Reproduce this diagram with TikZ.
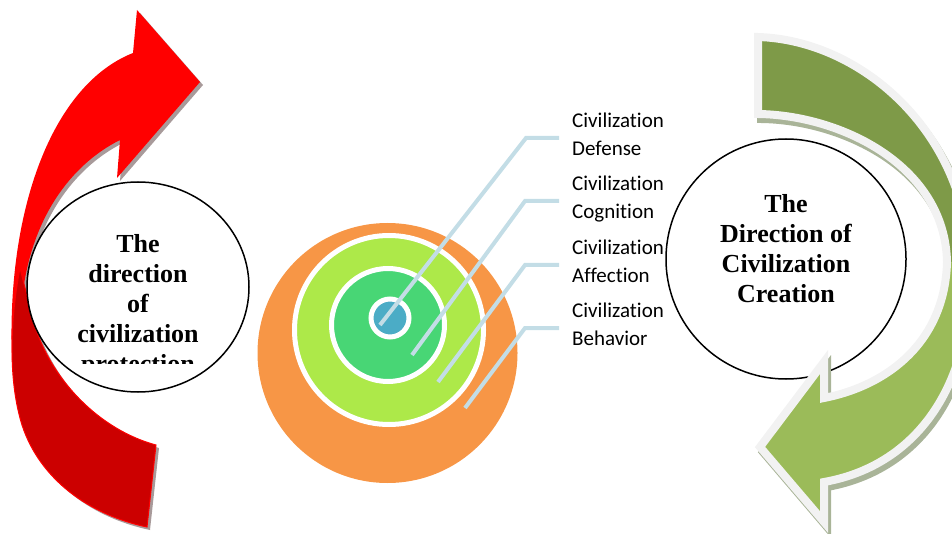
\documentclass[tikz,border=0pt]{standalone}
\usepackage{fontspec}
\usetikzlibrary{shapes.geometric}
\newfontfamily\titlefont{Liberation Serif}
\newfontfamily\labelfont{Carlito}[Ligatures={NoCommon}]
\definecolor{redbright}{HTML}{FF0000}
\definecolor{reddark}{HTML}{CC0000}
\definecolor{redshadow}{HTML}{A89A9A}
\definecolor{olivegr}{HTML}{7E9A48}
\definecolor{lightgr}{HTML}{9BBB59}
\definecolor{grborder}{HTML}{F2F2F2}
\definecolor{grshadow}{HTML}{A9B498}
\definecolor{ringorange}{HTML}{F79646}
\definecolor{ringlime}{HTML}{ADE949}
\definecolor{ringgreen}{HTML}{48D675}
\definecolor{ringblue}{HTML}{4BACC6}
\definecolor{leadercol}{HTML}{C3DDE6}
\newcommand\redtop{(133,53) -- (137,10) -- (200,82) -- (117,178) -- (120,140) .. controls (70,165) and (30,220) .. (22,300) -- (12,360) .. controls (6,210) and (52,85) .. (133,53) -- cycle}
\newcommand\redlow{(20,268) .. controls (10,320) and (8,380) .. (22,425) .. controls (40,480) and (90,515) .. (147,527) -- (156,445) .. controls (100,430) and (50,380) .. (33,320) .. controls (28,300) and (23,280) .. (20,268) -- cycle}
\newcommand\grnpath{(758,37) -- (758,114) .. controls (840,115) and (945,165) .. (947,262) .. controls (945,340) and (890,385) .. (824,398) -- (824,362) -- (760,447) -- (824,522) -- (824,482) .. controls (920,465) and (975,380) .. (970,262) .. controls (965,130) and (860,40) .. (758,37) -- cycle}
\tikzset{
  lab/.style={font=\labelfont\fontsize{21}{25}\selectfont, anchor=base west, inner sep=0pt},
  title/.style={font=\titlefont\bfseries\fontsize{26}{30}\selectfont, align=center, anchor=north, inner sep=0pt},
  ring/.style={circle, draw=white, line width=5pt, inner sep=0pt},
  leader/.style={draw=leadercol, line width=4pt},
  bigcircle/.style={draw=black, line width=1.5pt, fill=white, inner sep=0pt}
}
\begin{document}
\begin{tikzpicture}[x=1pt,y=-1pt]
\useasboundingbox (0,0) rectangle (952,534);
% red arrow
\fill[redshadow, shift={(3,3)}] \redtop;
\fill[redshadow, shift={(3,3)}] \redlow;
\fill[redbright] \redtop;
\filldraw[fill=reddark, draw=redbright, line width=1pt] \redlow;
% left circle
\node[bigcircle, ellipse, minimum width=222pt, minimum height=210pt] (protect) at (138,287) {};
\begin{scope}
\clip (20,180) rectangle (260,363);
\node[title] (protecttext) at (138,234) {The\\direction\\of\\civilization\\protection};
\end{scope}
% center rings
\node[circle, fill=ringorange, minimum size=260pt, inner sep=0pt] (behav) at (387.5,353) {};
\node[ring, fill=ringlime, minimum size=189pt] (affect) at (389,330) {};
\node[ring, fill=ringgreen, minimum size=113pt] (cogn) at (388,325) {};
\node[ring, fill=ringblue, minimum size=38pt] (defen) at (390,318) {};
% leaders
\coordinate (a0) at (380,325); \coordinate (a1) at (526,138); \coordinate (a2) at (559,138);
\coordinate (b0) at (412,355); \coordinate (b1) at (525,201); \coordinate (b2) at (559,201);
\coordinate (c0) at (438,382); \coordinate (c1) at (525,265); \coordinate (c2) at (559,265);
\coordinate (e0) at (465,408); \coordinate (e1) at (525,328); \coordinate (e2) at (559,328);
\draw[leader] (a0) -- (a1) -- (a2);
\draw[leader] (b0) -- (b1) -- (b2);
\draw[leader] (c0) -- (c1) -- (c2);
\draw[leader] (e0) -- (e1) -- (e2);
% labels
\node[lab] (l1a) at (572,127.5) {Civilization};
\node[lab] (l1b) at (572,155.5) {Defense};
\node[lab] (l2a) at (572,190.5) {Civilization};
\node[lab] (l2b) at (572,218.5) {Cognition};
\node[lab] (l3a) at (572,254.5) {Civilization};
\node[lab] (l3b) at (572,282.5) {Affection};
\node[lab] (l4a) at (572,317.5) {Civilization};
\node[lab] (l4b) at (572,345.5) {Behavior};
% right circle
\node[bigcircle, circle, minimum size=240pt] (create) at (786,259) {};
\node[title] (createtext) at (786,194) {The\\Direction of\\Civilization\\Creation};
% green arrow
\filldraw[grshadow, line width=8pt, line join=miter, shift={(3,5)}] \grnpath;
\begin{scope}
\clip \grnpath;
\fill[olivegr] (700,0) rectangle (980,262);
\fill[lightgr] (700,262) rectangle (980,540);
\end{scope}
\draw[grborder, line width=8pt, line join=miter] \grnpath;
\end{tikzpicture}
\end{document}
